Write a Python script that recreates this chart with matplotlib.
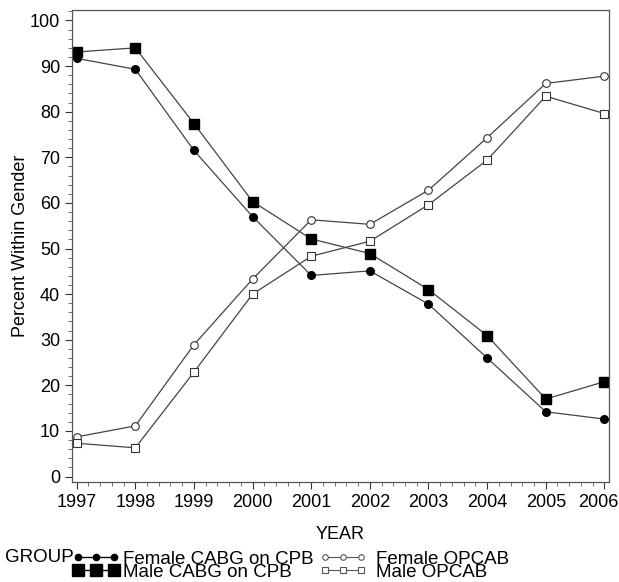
import matplotlib
matplotlib.use("Agg")
import matplotlib.pyplot as plt
import matplotlib.transforms as mtransforms
from matplotlib.lines import Line2D
from matplotlib.ticker import MultipleLocator

plt.rcParams['font.family'] = ['Liberation Sans', 'DejaVu Sans']

years = [1997, 1998, 1999, 2000, 2001, 2002, 2003, 2004, 2005, 2006]
female_cpb = [91.7, 89.3, 71.5, 57.0, 44.1, 45.1, 37.8, 26.0, 14.2, 12.6]
male_cpb = [93.1, 94.0, 77.4, 60.3, 52.1, 48.9, 41.0, 30.9, 17.0, 20.8]
female_opcab = [8.7, 11.1, 28.9, 43.3, 56.3, 55.3, 62.8, 74.3, 86.2, 87.8]
male_opcab = [7.3, 6.3, 22.9, 40.0, 48.3, 51.6, 59.6, 69.4, 83.4, 79.6]

line_c = '#444444'
fig = plt.figure(figsize=(6.19, 5.82), dpi=100)
ax = fig.add_axes([0.1163, 0.1718, 0.8677, 0.811])

ax.plot(years, female_cpb, '-o', color=line_c, lw=0.9, ms=5.5,
        mfc='black', mec='black', label='Female CABG on CPB')
ax.plot(years, male_cpb, '-s', color=line_c, lw=0.9, ms=6.5,
        mfc='black', mec='black', label='Male CABG on CPB')
ax.plot(years, female_opcab, '-o', color=line_c, lw=0.9, ms=5.5,
        mfc='white', mec='#333333', mew=0.8, label='Female OPCAB')
ax.plot(years, male_opcab, '-s', color=line_c, lw=0.9, ms=5.5,
        mfc='white', mec='#333333', mew=0.8, label='Male OPCAB')

ax.set_xlim(1996.92, 2006.08)
ax.set_ylim(-1.2, 102.3)
ax.set_xticks(years)
ax.set_yticks(range(0, 101, 10))
ax.xaxis.set_minor_locator(MultipleLocator(0.2))
ax.yaxis.set_minor_locator(MultipleLocator(2))
ax.tick_params(which='major', direction='out', length=5, width=0.8,
               labelsize=13, colors='#333333', labelcolor='black')
ax.tick_params(which='minor', direction='out', length=3, width=0.6,
               colors='#555555')
for s in ax.spines.values():
    s.set_color('#555555')
    s.set_linewidth(0.9)

# last year label is nudged left so it stays inside the figure
last = ax.xaxis.get_major_ticks()[-1].label1
last.set_transform(last.get_transform() +
                   mtransforms.ScaledTranslation(-6 / 100, 0, fig.dpi_scale_trans))

ax.set_xlabel('YEAR', fontsize=13, labelpad=11)
ax.set_ylabel('Percent Within Gender', fontsize=13, labelpad=1)

# legend keys, drawn like the SAS legend (two separate columns)
cpb_keys = [
    Line2D([], [], color='black', lw=1, marker='o', ms=4.5, mfc='black', mec='black'),
    Line2D([], [], color='black', lw=1, marker='s', ms=8.5, mfc='black', mec='black'),
]
opcab_keys = [
    Line2D([], [], color='#555555', lw=0.8, marker='o', ms=4, mfc='white', mec='#555555', mew=0.8),
    Line2D([], [], color='#555555', lw=0.8, marker='s', ms=4, mfc='white', mec='#555555', mew=0.8),
]
leg_kw = dict(loc='upper left', numpoints=3, frameon=False, fontsize=13.5,
              handlelength=2.5, labelspacing=-0.23, borderaxespad=0, borderpad=0)
fig.legend(cpb_keys, ['Female CABG on CPB', 'Male CABG on CPB'],
           bbox_to_anchor=(0.117, 0.054), handletextpad=0.18, **leg_kw)
fig.legend(opcab_keys, ['Female OPCAB', 'Male OPCAB'],
           bbox_to_anchor=(0.516, 0.054), handletextpad=0.5, **leg_kw)
fig.text(0.008, 0.042, 'GROUP', fontsize=13.5, va='center', ha='left')

fig.savefig('out.png', dpi=100)
